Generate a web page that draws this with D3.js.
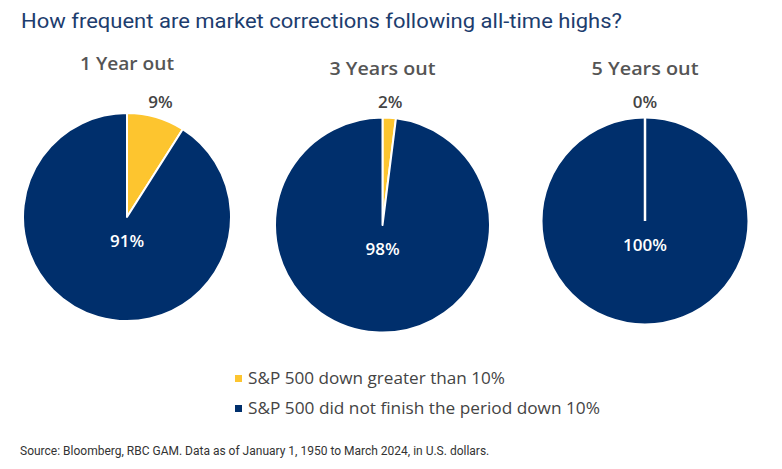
<!DOCTYPE html>
<html><head><meta charset="utf-8">
<script src="https://cdn.jsdelivr.net/npm/d3@7/dist/d3.min.js"></script>
<style>body{margin:0;background:#fff}svg{display:block}</style>
</head><body>
<svg id="c" width="782" height="469"></svg>
<script>
const periods = ["1 Year out", "3 Years out", "5 Years out"];
const downGreater = [9, 2, 0];
const notDown = [91, 98, 100];
const seriesNames = ["S&P 500 down greater than 10%", "S&P 500 did not finish the period down 10%"];
const colors = ["#fdc52f", "#002f6c"];

const svg = d3.select("#c");
const font = "'Open Sans', Lato, sans-serif";

svg.append("text").attr("x", 21).attr("y", 28)
  .attr("font-family", "Roboto, sans-serif").attr("font-size", 21)
  .attr("fill", "#1d3d6e").attr("textLength", 601).attr("lengthAdjust", "spacingAndGlyphs")
  .text("How frequent are market corrections following all-time highs?");

const layout = [
  {cx: 127, cy: 217, r: 104, ty: 70, tw: 94},
  {cx: 382.5, cy: 225, r: 107.5, ty: 75, tw: 106},
  {cx: 645, cy: 221, r: 103.5, ty: 75, tw: 107}
];

const pie = d3.pie().sort(null).value(d => d);
periods.forEach((p, i) => {
  const L = layout[i];
  const g = svg.append("g").attr("transform", `translate(${L.cx},${L.cy})`);
  const arcs = pie([downGreater[i], notDown[i]]);
  const arc = d3.arc().innerRadius(0).outerRadius(L.r);
  g.selectAll("path").data(arcs).join("path")
    .attr("d", arc).attr("fill", (d, j) => colors[j])
    .attr("stroke", "#fff").attr("stroke-width", 2).attr("stroke-linejoin", "round");
  if (downGreater[i] === 0) {
    g.append("line").attr("x1", 0).attr("y1", 0).attr("x2", 0).attr("y2", -L.r - 1)
      .attr("stroke", "#fff").attr("stroke-width", 2.5);
  }
  svg.append("text").attr("x", L.cx - L.tw / 2).attr("y", L.ty)
    .attr("font-family", font).attr("font-size", 18).attr("font-weight", 600)
    .attr("textLength", L.tw).attr("lengthAdjust", "spacingAndGlyphs")
    .attr("fill", "#555").text(p);
  const a = (arcs[0].startAngle + arcs[0].endAngle) / 2;
  const rr = L.r + 16;
  g.append("text").attr("x", Math.sin(a) * rr).attr("y", -Math.cos(a) * rr + 6)
    .attr("text-anchor", "middle").attr("font-family", font).attr("font-size", 17)
    .attr("font-weight", 600).attr("fill", "#444").text(downGreater[i] + "%");
  g.append("text").attr("x", 0).attr("y", 30).attr("text-anchor", "middle")
    .attr("font-family", font).attr("font-size", 17).attr("font-weight", 600)
    .attr("fill", "#fff").text(notDown[i] + "%");
});

const legW = [257, 352];
const leg = svg.append("g");
seriesNames.forEach((s, j) => {
  const y = 378 + j * 30;
  leg.append("rect").attr("x", 235).attr("y", y - 3).attr("width", 7).attr("height", 7).attr("fill", colors[j]);
  leg.append("text").attr("x", 248).attr("y", y + 6).attr("font-family", font)
    .attr("font-size", 17).attr("fill", "#444")
    .attr("textLength", legW[j]).attr("lengthAdjust", "spacingAndGlyphs").text(s);
});

svg.append("text").attr("x", 20).attr("y", 455).attr("font-family", "Roboto, sans-serif")
  .attr("font-size", 12).attr("fill", "#333")
  .text("Source: Bloomberg, RBC GAM. Data as of January 1, 1950 to March 2024, in U.S. dollars.");
</script>
</body></html>
